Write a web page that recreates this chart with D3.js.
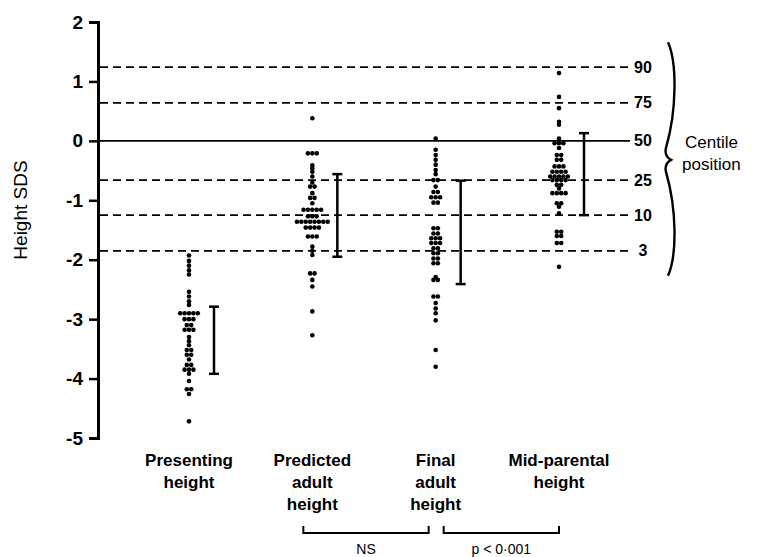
<html lang="en">
<head>
    <meta charset="UTF-8">
    <title>Height SDS</title>
    <style>
        body { margin: 0; background: #fff; }
        text { font-family: "Liberation Sans", Arial, sans-serif; fill: #000; }
    </style>
</head>
<body>
    <script src="https://d3js.org/d3.v7.min.js"></script>
    <script>
      // groups and their labels
      let groups = ["Presenting height", "Predicted adult height", "Final adult height", "Mid-parental height"]
      let groupLines = [["Presenting", "height"], ["Predicted", "adult", "height"], ["Final", "adult", "height"], ["Mid-parental", "height"]]

      // individual SDS values
      let presenting = [-1.93, -2.02, -2.1, -2.18, -2.25, -2.54, -2.62, -2.7, -2.76,
        -2.9, -2.9, -2.9, -2.9, -2.9, -3.0, -3.0, -3.0, -3.1, -3.1, -3.18, -3.18, -3.18,
        -3.3, -3.37, -3.44, -3.52, -3.52, -3.6, -3.6, -3.68, -3.77, -3.77,
        -3.85, -3.85, -3.85, -3.92, -4.04, -4.18, -4.18, -4.26, -4.72]
      let predicted = [0.38, -0.21, -0.21, -0.21, -0.41, -0.46, -0.52, -0.6, -0.7, -0.77, -0.77,
        -0.88, -0.96, -0.96, -1.05, -1.16, -1.16, -1.16, -1.16, -1.16, -1.27, -1.27, -1.27,
        -1.36, -1.36, -1.36, -1.36, -1.36, -1.36, -1.36, -1.36, -1.46, -1.46, -1.46, -1.46,
        -1.61, -1.61, -1.61, -1.78, -1.85, -1.92, -2.23, -2.23, -2.34, -2.45, -2.87, -3.27]
      let finalAdult = [0.04, -0.15, -0.24, -0.32, -0.4, -0.49, -0.56, -0.66, -0.66, -0.77,
        -0.86, -0.86, -0.95, -0.95, -0.95, -1.04, -1.04, -1.47, -1.47, -1.56, -1.56,
        -1.64, -1.64, -1.64, -1.72, -1.72, -1.72, -1.81, -1.81, -1.89, -1.89, -1.98, -1.98,
        -2.06, -2.06, -2.29, -2.34, -2.34, -2.62, -2.62, -2.73, -2.82, -2.9, -3.02, -3.52, -3.8]
      let midParental = [1.14, 0.74, 0.55, 0.32, 0.27, 0.04, -0.04, -0.04, -0.04, -0.12,
        -0.24, -0.24, -0.32, -0.32, -0.43, -0.43, -0.43, -0.52, -0.52, -0.52, -0.52,
        -0.6, -0.6, -0.6, -0.6, -0.6, -0.66, -0.66, -0.66, -0.66, -0.74, -0.74, -0.8,
        -0.88, -0.88, -0.88, -0.88, -1.05, -1.05, -1.11, -1.22, -1.53, -1.53, -1.6, -1.6,
        -1.72, -1.72, -2.12]
      let groupValues = [presenting, predicted, finalAdult, midParental]

      // range bars
      let barTop = [-2.79, -0.56, -0.67, 0.13]
      let barBottom = [-3.92, -1.95, -2.41, -1.25]

      // centile reference lines
      let centileSds = [1.24, 0.64, 0, -0.66, -1.25, -1.85]
      let centileLabels = ["90", "75", "50", "25", "10", "3"]

      let yTicks = [2, 1, 0, -1, -2, -3, -4, -5]

      // comparisons under the labels
      let compFrom = [1, 2]
      let compTo = [2, 3]
      let compLabels = ["NS", "p < 0·001"]

      let width = 774
      let height = 557

      let svg = d3.select("body")
                  .append("svg")
                  .attr("width", width)
                  .attr("height", height)

      let x = d3.scalePoint().domain(d3.range(groups.length)).range([189, 559])
      let y = d3.scaleLinear().domain([-5, 2]).range([438, 22])
      let axisX = 98

      // centile lines
      svg.selectAll("line.centile")
         .data(centileSds)
         .enter()
         .append("line")
         .attr("class", "centile")
         .attr("x1", axisX + 2)
         .attr("x2", 630)
         .attr("y1", d => y(d))
         .attr("y2", d => y(d))
         .attr("stroke", "#000")
         .attr("stroke-width", 1.8)
         .attr("stroke-dasharray", d => d === 0 ? null : "8,5")

      svg.selectAll("text.centile")
         .data(centileLabels)
         .enter()
         .append("text")
         .attr("class", "centile")
         .attr("x", 643)
         .attr("y", (d, i) => y(centileSds[i]))
         .attr("dy", "0.35em")
         .attr("text-anchor", "middle")
         .style("font-weight", "bold")
         .style("font-size", "16px")
         .text(d => d)

      // brace + caption
      let bt = y(1.66), bb = y(-2.27), bm = y(-0.32)
      svg.append("path")
         .attr("d", "M668," + bt + " C677," + (bt + 20) + " 677," + (bm - 50) + " 666," + (bm - 12) +
                    " Q664," + (bm - 4) + " 671," + bm +
                    " Q664," + (bm + 4) + " 666," + (bm + 12) +
                    " C677," + (bm + 50) + " 677," + (bb - 20) + " 668," + bb)
         .attr("fill", "none")
         .attr("stroke", "#000")
         .attr("stroke-width", 2.4)

      svg.append("text").attr("x", 685).attr("y", 148).style("font-size", "17px").text("Centile")
      svg.append("text").attr("x", 682).attr("y", 170).style("font-size", "17px").text("position")

      // y axis
      let yAxis = svg.append("g")
         .attr("transform", "translate(" + axisX + ",0)")
         .call(d3.axisLeft(y).tickValues(yTicks).tickFormat(d => String(d))
                 .tickSize(9).tickSizeOuter(9).tickPadding(6))
      yAxis.select(".domain").attr("stroke-width", 3)
      yAxis.selectAll(".tick line").attr("stroke-width", 2.5)
      yAxis.selectAll(".tick text")
           .style("font-family", "'Liberation Sans', Arial, sans-serif")
           .style("font-size", "19px")
           .style("font-weight", "bold")

      svg.append("text")
         .attr("transform", "translate(27," + 210 + ") rotate(-90)")
         .attr("text-anchor", "middle")
         .style("font-size", "19px")
         .text("Height SDS")

      // dots, ties spread sideways
      let dots = []
      groupValues.forEach(function(vals, g) {
        d3.group(vals, v => v).forEach(function(arr, v) {
          arr.forEach(function(_, i) {
            dots.push({ g: g, v: v, dx: (i - (arr.length - 1) / 2) * 4.4 })
          })
        })
      })

      svg.selectAll("circle")
         .data(dots)
         .enter()
         .append("circle")
         .attr("cx", d => x(d.g) + d.dx)
         .attr("cy", d => y(d.v))
         .attr("r", 2.3)
         .attr("fill", "#000")

      // range bars
      let bars = svg.selectAll("g.bar")
         .data(groups)
         .enter()
         .append("g")
         .attr("class", "bar")
         .attr("stroke", "#000")
         .attr("stroke-width", 2.5)
      bars.append("line")
          .attr("x1", (d, i) => x(i) + 25).attr("x2", (d, i) => x(i) + 25)
          .attr("y1", (d, i) => y(barTop[i])).attr("y2", (d, i) => y(barBottom[i]))
      bars.append("line")
          .attr("x1", (d, i) => x(i) + 20).attr("x2", (d, i) => x(i) + 30)
          .attr("y1", (d, i) => y(barTop[i])).attr("y2", (d, i) => y(barTop[i]))
      bars.append("line")
          .attr("x1", (d, i) => x(i) + 20).attr("x2", (d, i) => x(i) + 30)
          .attr("y1", (d, i) => y(barBottom[i])).attr("y2", (d, i) => y(barBottom[i]))

      // group labels
      groupLines.forEach(function(lines, i) {
        lines.forEach(function(t, k) {
          svg.append("text")
             .attr("x", x(i))
             .attr("y", 466 + k * 22)
             .attr("text-anchor", "middle")
             .style("font-size", "17px")
             .style("font-weight", "bold")
             .text(t)
        })
      })

      // comparison brackets
      let leftPad = [-9, 8], rightPad = [-7, 0]
      compLabels.forEach(function(lab, i) {
        let x1 = x(compFrom[i]) + leftPad[i]
        let x2 = x(compTo[i]) + rightPad[i]
        svg.append("path")
           .attr("d", "M" + x1 + ",526 V533 H" + x2 + " V526")
           .attr("fill", "none")
           .attr("stroke", "#000")
           .attr("stroke-width", 2)
        svg.append("text")
           .attr("x", (x1 + x2) / 2)
           .attr("y", 554)
           .attr("text-anchor", "middle")
           .style("font-size", "14px")
           .text(lab)
      })
    </script>
</body>
</html>
